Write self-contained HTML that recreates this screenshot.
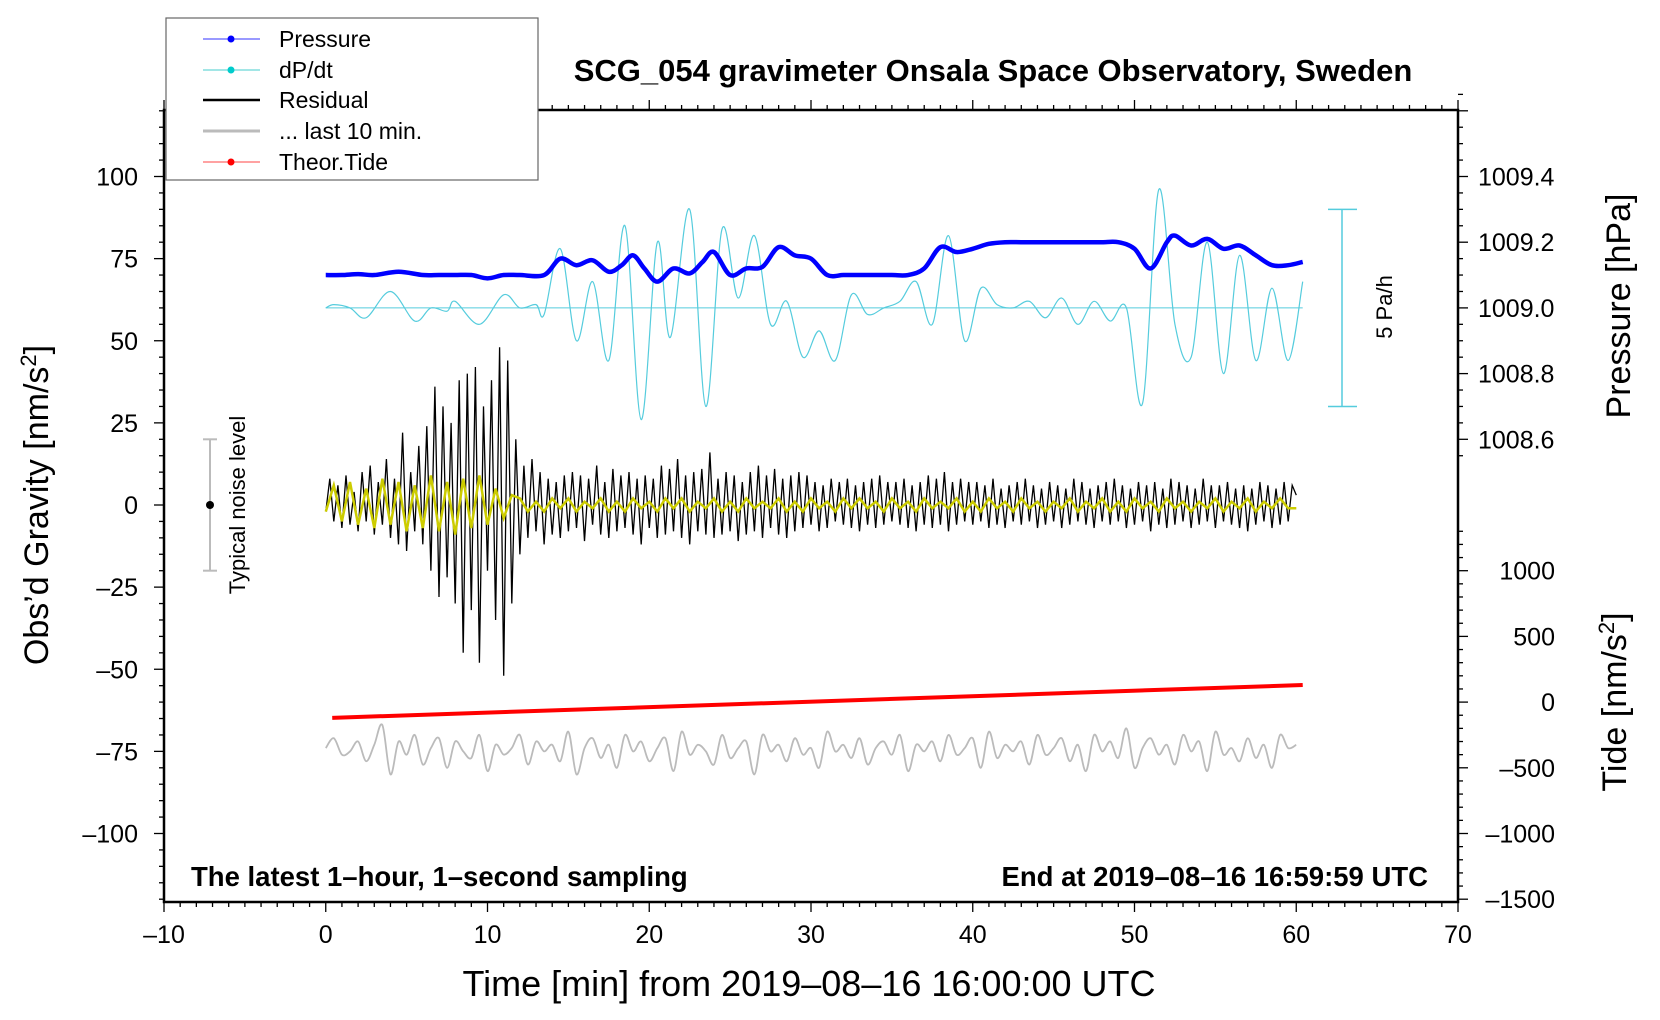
<!DOCTYPE html>
<html><head><meta charset="utf-8"><style>
html,body{margin:0;padding:0;background:#fff;}
svg{display:block;font-family:"Liberation Sans",sans-serif;}
</style></head><body>
<svg id="chart" width="1660" height="1020" viewBox="0 0 1660 1020">
<g id="marks"></g>
<g id="axes"></g>
<text x="993" y="81" text-anchor="middle" font-size="31" font-weight="bold">SCG_054 gravimeter Onsala Space Observatory, Sweden</text>
<text x="191" y="886" font-size="27.5" font-weight="bold">The latest 1–hour, 1–second sampling</text>
<text x="1428" y="886" text-anchor="end" font-size="27.5" font-weight="bold">End at 2019–08–16 16:59:59 UTC</text>
<text x="809" y="996" text-anchor="middle" font-size="36">Time [min] from 2019–08–16 16:00:00 UTC</text>
<text transform="translate(48,505) rotate(-90)" text-anchor="middle" font-size="34">Obs’d Gravity [nm/s<tspan font-size="22" dy="-12">2</tspan><tspan dy="12">]</tspan></text>
<text transform="translate(1630,306) rotate(-90)" text-anchor="middle" font-size="34">Pressure [hPa]</text>
<text transform="translate(1626,702) rotate(-90)" text-anchor="middle" font-size="34">Tide [nm/s<tspan font-size="22" dy="-12">2</tspan><tspan dy="12">]</tspan></text>
<text transform="translate(245,505) rotate(-90)" text-anchor="middle" font-size="22">Typical noise level</text>
<text transform="translate(1392,307) rotate(-90)" text-anchor="middle" font-size="22">5 Pa/h</text>
<g>
<rect x="166" y="18" width="372" height="162" fill="#fff" stroke="#666" stroke-width="1.2"/>
<g><line x1="203" y1="39" x2="260" y2="39" stroke="#33f" stroke-width="1"/><circle cx="231" cy="39" r="3.5" fill="#00f"/><text x="279" y="47" font-size="23">Pressure</text></g>
<g><line x1="203" y1="70" x2="260" y2="70" stroke="#4cc" stroke-width="1"/><circle cx="231" cy="70" r="3.5" fill="#0cc"/><text x="279" y="78" font-size="23">dP/dt</text></g>
<g><line x1="203" y1="100" x2="260" y2="100" stroke="#000" stroke-width="2.5"/><text x="279" y="108" font-size="23">Residual</text></g>
<g><line x1="203" y1="131" x2="260" y2="131" stroke="#bbb" stroke-width="3"/><text x="279" y="139" font-size="23">... last 10 min.</text></g>
<g><line x1="203" y1="162" x2="260" y2="162" stroke="#f44" stroke-width="1"/><circle cx="231" cy="162" r="3.5" fill="#f00"/><text x="279" y="170" font-size="23">Theor.Tide</text></g>
</g>
</svg>
<script>
// ---- data ----
const xTicks = [-10,0,10,20,30,40,50,60,70];
const yTicks = [-100,-75,-50,-25,0,25,50,75,100];
const pressureTicks = [1008.6,1008.8,1009.0,1009.2,1009.4];
const tideTicks = [-1500,-1000,-500,0,500,1000];
const pressureT = [0,1,2,3,4.5,6,7,8,9,10,11,12,13.5,14.5,15.5,16.5,17.5,18.3,19,19.7,20.5,21.5,22.5,23.3,24,25,26,27,28,29,30,31,32,33,34,35,36,37,38,39,40,41,42,43,44,45,46,47,48,49,50,51,52,52.5,53.5,54.5,55.5,56.5,57.5,58.5,59.5,60.4];
const pressureV = [70,70,70.3,70,71,70,70,70,70,69,70,70,70,75,73,74.5,71,73,76,72,68,72,70.5,74,77,70,72,72.5,78.5,76,75,70,70,70,70,70,70,72,78.5,77,78,79.5,80,80,80,80,80,80,80,80,78,72,80,82,79,81,78,79,76,73,73,74];
const dpdtT = [0,0.5,1.5,2.5,4,5.5,6.5,7.5,8,9.5,11,12,13,13.5,14.5,15.5,16.5,17.5,18.5,19.5,20.5,21.3,22.5,23.5,24.5,25.5,26.5,27.5,28.5,29.5,30.5,31.5,32.5,33.5,34.5,35.5,36.5,37.5,38.5,39.5,40.5,41.5,42.5,43.5,44.5,45.5,46.5,47.5,48.5,49.5,50.5,51.5,52.5,53.5,54.5,55.5,56.5,57.5,58.5,59.5,60.4];
const dpdtV = [60,61,60,57,65,56,60,59,62,55,64,60,61,58,78,50,68,44,85,26,80,51,90,30,84,63,82,55,62,45,53,44,64,58,60,62,68,55,82,50,66,61,60,62,57,63,55,62,56,60,31,96,55,45,80,40,76,44,66,44,68];
const resid = [-2,8,-5,6,-7,9,-6,4,-8,10,-5,12,-9,7,-6,14,-10,8,-12,22,
-14,10,-8,18,-12,24,-20,36,-28,30,-22,25,-30,38,-45,40,-32,42,-48,30,
-20,38,-35,48,-52,44,-30,20,-15,12,-10,14,-8,10,-12,8,-9,7,-10,9,
-8,10,-7,9,-11,8,-6,12,-9,7,-10,11,-8,9,-7,10,-9,8,-12,9,
-7,8,-10,12,-9,11,-8,14,-10,9,-12,10,-8,11,-9,16,-10,8,-9,10,
-8,9,-11,7,-9,10,-8,12,-10,9,-7,11,-9,8,-10,9,-8,10,-7,9,
-6,7,-8,6,-7,8,-5,7,-6,8,-7,6,-8,7,-6,8,-7,9,-6,7,
-5,7,-6,8,-7,6,-8,7,-6,9,-7,8,-6,10,-8,7,-6,8,-5,7,
-6,7,-5,6,-7,8,-6,5,-7,6,-5,7,-6,8,-5,6,-7,5,-6,7,
-5,6,-7,5,-6,8,-5,7,-6,5,-7,6,-5,7,-6,8,-5,6,-7,5,
-6,7,-5,6,-8,7,-6,5,-7,8,-6,7,-5,6,-7,5,-6,8,-5,6,
-7,6,-5,7,-6,5,-7,6,-8,5,-6,7,-5,6,-7,5,-6,7,-5,6,3];
const yellow = [-2,6,-5,7,-6,5,-7,8,-6,7,-8,6,-7,9,-8,7,-9,8,-7,9,-6,5,-4,3,
2,-2,1,-2,2,-1,2,-2,1,-1,
2,-2,1,-2,2,-1,1,-2,2,-1,
2,-2,1,-1,2,-2,1,-2,2,-1,
1,-1,2,-2,1,-2,2,-1,1,-2,
2,-1,2,-1,1,-2,2,-1,1,-2,
2,-1,1,-1,2,-2,1,-2,2,-1,
1,-2,2,-1,1,-2,1,-1,2,-2,
1,-1,2,-2,1,-2,2,-1,1,-2,
2,-1,1,-2,1,-1,2,-2,1,-1,
2,-2,1,-1,2,-1,-1];
const gray = [-74,-71,-76,-75,-72,-78,-73,-67,-82,-72,-76,-70,-79,-74,-71,-80,-72,-75,-77,-70,-81,-73,-76,-74,-70,-79,-72,-75,-73,-78,-69,-82,-74,-71,-77,-73,-80,-70,-75,-72,-78,-74,-71,-81,-69,-76,-73,-75,-79,-70,-77,-74,-72,-82,-70,-75,-73,-78,-71,-76,-74,-80,-69,-75,-73,-77,-71,-79,-74,-72,-76,-70,-81,-73,-75,-72,-78,-70,-76,-74,-71,-80,-69,-77,-73,-75,-72,-79,-70,-76,-74,-71,-78,-73,-81,-70,-75,-72,-77,-68,-80,-74,-71,-76,-73,-79,-70,-75,-72,-81,-69,-76,-74,-78,-71,-77,-73,-80,-70,-74,-73];
const tideStart = -120, tideEnd = 130; // nm/s^2 at t=0.4 and t=60.4
// ---- scales ----
const X = t => 164 + (t + 10) * 16.175;
const Y = v => 505 - v * 3.285;
const P = p => 100 + (p - 1009.4) * 100;
const T = d => -60 + d / 25;
const NS = 'http://www.w3.org/2000/svg';
function mk(tag, parent, attrs){const e=document.createElementNS(NS,tag);for(const k in attrs)e.setAttribute(k,attrs[k]);parent.appendChild(e);return e;}
const marks = document.getElementById('marks'), axes = document.getElementById('axes');
function smooth(pts){let d='M'+pts[0][0]+','+pts[0][1];for(let i=0;i<pts.length-1;i++){const p0=pts[i-1]||pts[i],p1=pts[i],p2=pts[i+1],p3=pts[i+2]||p2;d+=' C'+(p1[0]+(p2[0]-p0[0])/6)+','+(p1[1]+(p2[1]-p0[1])/6)+' '+(p2[0]-(p3[0]-p1[0])/6)+','+(p2[1]-(p3[1]-p1[1])/6)+' '+p2[0]+','+p2[1];}return d;}
function poly(vals, step, t0){return vals.map((v,i)=>X(t0+i*step).toFixed(1)+','+Y(v).toFixed(1)).join(' ');}
let e = mk('line', marks, {x1:X(0),x2:X(60.4),y1:Y(60),y2:Y(60),stroke:'#5cd',"stroke-width":1});


e = mk('path', marks, {d:smooth(dpdtT.map((t,i)=>[X(t),Y(dpdtV[i])])),fill:'none',stroke:'#5cd',"stroke-width":1.2});


e = mk('path', marks, {d:smooth(pressureT.map((t,i)=>[X(t),Y(pressureV[i])])),fill:'none',stroke:'#00f',"stroke-width":4.5});


e = mk('polyline', marks, {points:poly(resid,0.25,0),fill:'none',stroke:'#000',"stroke-width":1.3});


e = mk('polyline', marks, {points:poly(yellow,0.5,0),fill:'none',stroke:'#cc0',"stroke-width":2.5});


e = mk('line', marks, {x1:X(0.4),x2:X(60.4),y1:Y(T(tideStart)),y2:Y(T(tideEnd)),stroke:'#f00',"stroke-width":4});


e = mk('path', marks, {d:smooth(gray.map((v,i)=>[X(i*0.5),Y(v)])),fill:'none',stroke:'#bbb',"stroke-width":1.8});


e = mk('g', marks, {});


mk('line', e, {x1:210,x2:210,y1:Y(20),y2:Y(-20),stroke:'#bbb',"stroke-width":2});
mk('line', e, {x1:203,x2:217,y1:Y(20),y2:Y(20),stroke:'#bbb',"stroke-width":2});
mk('line', e, {x1:203,x2:217,y1:Y(-20),y2:Y(-20),stroke:'#bbb',"stroke-width":2});
mk('circle', e, {cx:210,cy:Y(0),r:4,fill:'#000'});
e = mk('g', marks, {});


mk('line', e, {x1:1342,x2:1342,y1:Y(90),y2:Y(30),stroke:'#5cd',"stroke-width":1.5});
mk('line', e, {x1:1328,x2:1357,y1:Y(90),y2:Y(90),stroke:'#5cd',"stroke-width":1.5});
mk('line', e, {x1:1328,x2:1357,y1:Y(30),y2:Y(30),stroke:'#5cd',"stroke-width":1.5});
const L=164,R=1458,TOP=110,BOT=902;
mk('rect', axes, {x:L,y:TOP,width:R-L,height:BOT-TOP,fill:'none',stroke:'#000',"stroke-width":2.5});
for(let t=-10;t<=70;t++){const maj=t%10===0;const len=maj?10:5;
 mk('line',axes,{x1:X(t),x2:X(t),y1:BOT,y2:BOT+len,stroke:'#000',"stroke-width":1.3});
 mk('line',axes,{x1:X(t),x2:X(t),y1:TOP,y2:TOP-len,stroke:'#000',"stroke-width":1.3});}
xTicks.forEach(t=>{const tx=mk('text',axes,{x:X(t),y:943,"text-anchor":"middle","font-size":25});tx.textContent=String(t).replace('-','–');
 
 });
for(let v=-120;v<=120;v+=5){const maj=v%25===0;mk('line',axes,{x1:L-(maj?10:5),x2:L,y1:Y(v),y2:Y(v),stroke:'#000',"stroke-width":1.3});}
yTicks.forEach(v=>{const tx=mk('text',axes,{x:138,y:Y(v)+9,"text-anchor":"end","font-size":25});tx.textContent=String(v).replace('-','–');
 
 });
for(let p=1008.55;p<=1009.66;p+=0.05){const maj=Math.abs(Math.round(p*5)-p*5)<0.01;mk('line',axes,{x1:R,x2:R+(maj?10:5),y1:Y(P(p)),y2:Y(P(p)),stroke:'#000',"stroke-width":1.3});}
pressureTicks.forEach(p=>{const tx=mk('text',axes,{x:1478,y:Y(P(p))+9,"font-size":25});tx.textContent=p.toFixed(1);
 
 });
for(let d=-1500;d<=1300;d+=100){const maj=d%500===0;mk('line',axes,{x1:R,x2:R+(maj?10:5),y1:Y(T(d)),y2:Y(T(d)),stroke:'#000',"stroke-width":1.3});}
tideTicks.forEach(d=>{const tx=mk('text',axes,{x:1555,y:Y(T(d))+9,"text-anchor":"end","font-size":25});tx.textContent=String(d).replace('-','–');
 
 });
</script>
</body></html>
